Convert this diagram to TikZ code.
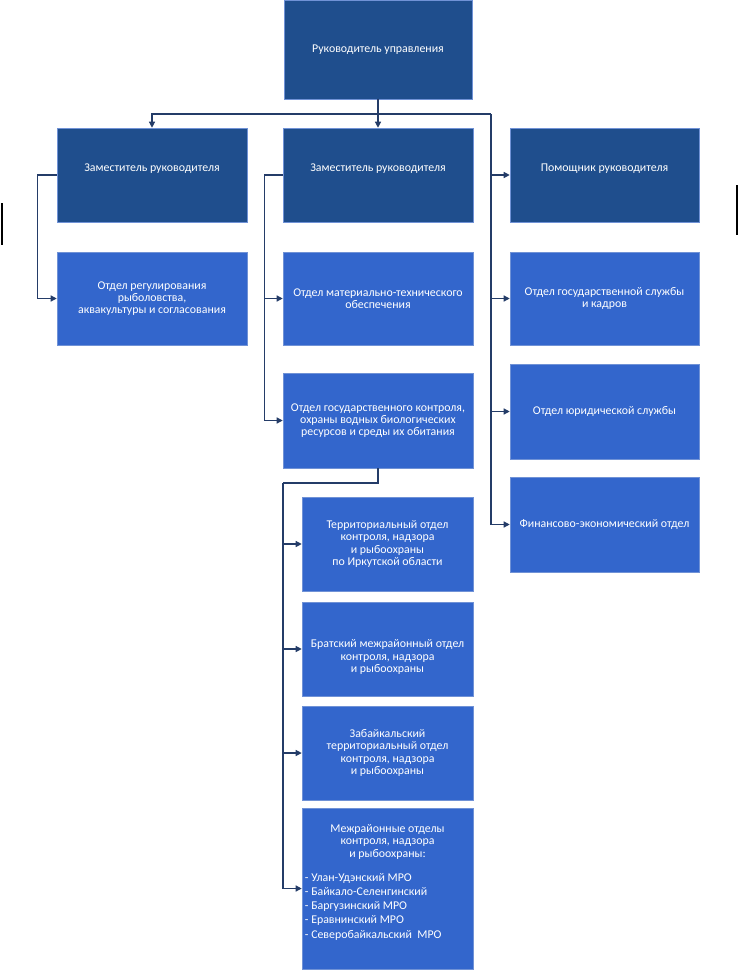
\documentclass[tikz,border=0pt]{standalone}
\usepackage{fontspec}
\setmainfont{Carlito}
\usetikzlibrary{arrows.meta,positioning}

\definecolor{headblue}{RGB}{31,78,141}
\definecolor{deptblue}{RGB}{51,102,204}
\definecolor{edgeblue}{RGB}{112,146,214}
\definecolor{linkblue}{RGB}{36,60,104}

\tikzset{
    box/.style={draw=edgeblue, line width=0.4pt, inner sep=1.5pt,
        text=white, align=center, font=\fontsize{8.9}{9.2}\selectfont},
    headbox/.style={box, fill=headblue},
    deptbox/.style={box, fill=deptblue},
    boxtext/.style={text=white, align=center, font=\fontsize{8.9}{9.2}\selectfont},
    listtext/.style={text=white, align=left, inner sep=0pt, font=\fontsize{8.9}{10.7}\selectfont},
    link/.style={draw=linkblue, line width=0.9pt, -{Triangle[length=4.5pt,width=4.5pt]}},
    line/.style={draw=linkblue, line width=0.9pt}
}

\begin{document}
\begin{tikzpicture}[x=0.75pt,y=-0.75pt]
    \useasboundingbox (0,0) rectangle (740,970);

    % head
    \node[headbox, minimum width=141pt, minimum height=74.25pt] (head) at (378,49.5)
        {Руководитель управления};

    % deputies and assistant
    \node[headbox, minimum width=142.5pt, minimum height=70.5pt,
        label={[boxtext,yshift=5pt]center:Заместитель руководителя}] (dep1) at (152,175) {};
    \node[headbox, minimum width=142.5pt, minimum height=70.5pt,
        label={[boxtext,yshift=5pt]center:Заместитель руководителя}] (dep2) at (378,175) {};
    \node[headbox, minimum width=141.75pt, minimum height=70.5pt,
        label={[boxtext,yshift=5pt]center:Помощник руководителя}] (help) at (604.5,175) {};

    % departments
    \node[deptbox, minimum width=142.5pt, minimum height=70pt] (reg) at (152,298.5)
        {Отдел регулирования\\рыболовства,\\аквакультуры и согласования};
    \node[deptbox, minimum width=142.5pt, minimum height=70pt] (mts) at (378,298.5)
        {Отдел материально-технического\\обеспечения};
    \node[deptbox, minimum width=142.5pt, minimum height=71.25pt] (ctrl) at (378,420.5)
        {Отдел государственного контроля,\\охраны водных биологических\\ресурсов и среды их обитания};
    \node[deptbox, minimum width=141.75pt, minimum height=70pt] (staff) at (604.5,298.5)
        {Отдел государственной службы\\и кадров};
    \node[deptbox, minimum width=141.75pt, minimum height=71.25pt] (law) at (604.5,411.5)
        {Отдел юридической службы};
    \node[deptbox, minimum width=141.75pt, minimum height=71.25pt] (fin) at (604.5,524.5)
        {Финансово-экономический отдел};

    % territorial units
    \node[deptbox, minimum width=128.25pt, minimum height=70.5pt] (terr) at (387.5,544)
        {Территориальный отдел\\контроля, надзора\\и рыбоохраны\\по Иркутской области};
    \node[deptbox, minimum width=128.25pt, minimum height=70.5pt,
        label={[boxtext,yshift=-6pt]center:Братский межрайонный отдел\\контроля, надзора\\и рыбоохраны}] (brat) at (387.5,649) {};
    \node[deptbox, minimum width=128.25pt, minimum height=70.5pt] (zab) at (387.5,753)
        {Забайкальский\\территориальный отдел\\контроля, надзора\\и рыбоохраны};
    \node[deptbox, minimum width=128.25pt, minimum height=120.75pt] (mro) at (387.5,888.5) {};
    \node[boxtext, below=9pt of mro.north] (mrotitle)
        {Межрайонные отделы\\контроля, надзора\\и рыбоохраны:};
    \node[listtext, anchor=west] (mrolist) at ([xshift=2.2pt,yshift=-13.5pt]mro.west)
        {- Улан-Удэнский МРО\\- Байкало-Селенгинский\\- Баргузинский МРО\\- Еравнинский МРО\\- Северобайкальский~~МРО};

    % connectors
    \coordinate (bus) at (378,114);
    \coordinate (rail) at (491,114);
    \draw[link] (head.south) -- (dep2.north);
    \draw[link] (bus) -| (dep1.north);
    \draw[line] (bus) -- (rail);
    \draw[link] (rail) |- (fin.west);
    \foreach \n in {help,staff,law}
        \draw[link] (rail |- \n.west) -- (\n.west);

    \draw[link] (dep1.west) -- ++(-19,0) |- (reg.west);

    \draw[link] (dep2.west) -- ++(-18,0) coordinate (mrail) |- (ctrl.west);
    \draw[link] (mrail |- mts.west) -- (mts.west);

    \coordinate (srail) at (283,483);
    \draw[line] (ctrl.south) |- (srail);
    \draw[link] (srail) |- (mro.west);
    \foreach \n in {terr,brat,zab}
        \draw[link] (srail |- \n.west) -- (\n.west);

    % stray marks at the edges
    \draw[line width=0.8pt] (2,203) -- (2,245);
    \draw[line width=0.8pt] (737,185) -- (737,235);
\end{tikzpicture}
\end{document}
